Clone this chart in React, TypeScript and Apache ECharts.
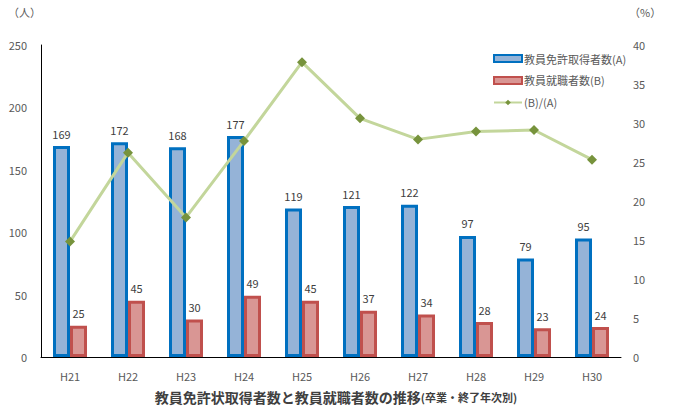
import React, { useEffect, useRef } from "react";
import * as echarts from "echarts";

const categories = ["H21", "H22", "H23", "H24", "H25", "H26", "H27", "H28", "H29", "H30"];
const licensed = [169, 172, 168, 177, 119, 121, 122, 97, 79, 95];
const employed = [25, 45, 30, 49, 45, 37, 34, 28, 23, 24];
const ratio = [14.8, 26.2, 17.9, 27.7, 37.8, 30.6, 27.9, 28.9, 29.1, 25.3];

const FONT = "'Noto Sans CJK JP', 'Noto Sans', sans-serif";

export default function App() {
  const ref = useRef<HTMLDivElement>(null);
  useEffect(() => {
    document.body.style.margin = "0";
    if (!ref.current) return;
    const chart = echarts.init(ref.current, null, { renderer: "svg" });
    chart.setOption({
      animation: false,
      textStyle: { fontFamily: FONT },
      title: {
        text: "{b|教員免許状取得者数と教員就職者数の推移}{s|(卒業・終了年次別)}",
        left: 331,
        textAlign: "center",
        top: 385,
        textStyle: {
          rich: {
            b: { fontSize: 14, fontWeight: "bold", color: "#404040", fontFamily: FONT },
            s: { fontSize: 11, color: "#404040", fontFamily: FONT },
          },
        },
      },
      legend: {
        orient: "vertical",
        left: 488,
        top: 48,
        itemWidth: 28,
        itemHeight: 7,
        itemGap: 11,
        textStyle: { fontSize: 11, color: "#595959", fontFamily: FONT, padding: [0, 0, 0, -3] },
        data: [
          { name: "教員免許取得者数(A)", icon: "rect" },
          { name: "教員就職者数(B)", icon: "rect" },
          { name: "(B)/(A)" },
        ],
      },
      grid: { left: 41, right: 57, top: 45, bottom: 63 },
      xAxis: {
        type: "category",
        data: categories,
        axisLine: { lineStyle: { color: "#000", width: 1 } },
        axisTick: { show: false },
        axisLabel: { color: "#595959", fontSize: 11, margin: 13 },
      },
      yAxis: [
        {
          type: "value",
          min: 0,
          max: 250,
          interval: 50,
          name: "（人）",
          nameLocation: "end",
          nameGap: 28,
          nameTextStyle: { color: "#595959", fontSize: 11, align: "right" },
          axisLine: { show: true, lineStyle: { color: "#000", width: 1 } },
          axisTick: { show: false },
          splitLine: { show: false },
          axisLabel: { color: "#595959", fontSize: 11, margin: 14 },
        },
        {
          type: "value",
          min: 0,
          max: 40,
          interval: 5,
          name: "（%）",
          nameLocation: "end",
          nameGap: 28,
          nameTextStyle: { color: "#595959", fontSize: 11, align: "left", padding: [0, 0, 0, 8] },
          axisLine: { show: false },
          axisTick: { show: false },
          splitLine: { show: false },
          axisLabel: { color: "#595959", fontSize: 11, margin: 12 },
        },
      ],
      series: [
        {
          name: "教員免許取得者数(A)",
          type: "bar",
          data: licensed,
          barWidth: 17,
          barGap: "0%",
          itemStyle: { color: "#95b3d7", borderColor: "#0070c0", borderWidth: 3 },
          label: { show: true, position: "top", distance: 7, color: "#404040", fontSize: 11 },
        },
        {
          name: "教員就職者数(B)",
          type: "bar",
          data: employed,
          barWidth: 17,
          itemStyle: { color: "#d99694", borderColor: "#c0504d", borderWidth: 3 },
          label: { show: true, position: "top", distance: 7, color: "#404040", fontSize: 11 },
        },
        {
          name: "(B)/(A)",
          type: "line",
          yAxisIndex: 1,
          data: ratio,
          symbol: "diamond",
          symbolSize: 10,
          lineStyle: { color: "#c3d69b", width: 3 },
          itemStyle: { color: "#77933c" },
          z: 5,
        },
      ],
    });
    return () => chart.dispose();
  }, []);
  return <div ref={ref} style={{ width: 678, height: 420 }} />;
}
